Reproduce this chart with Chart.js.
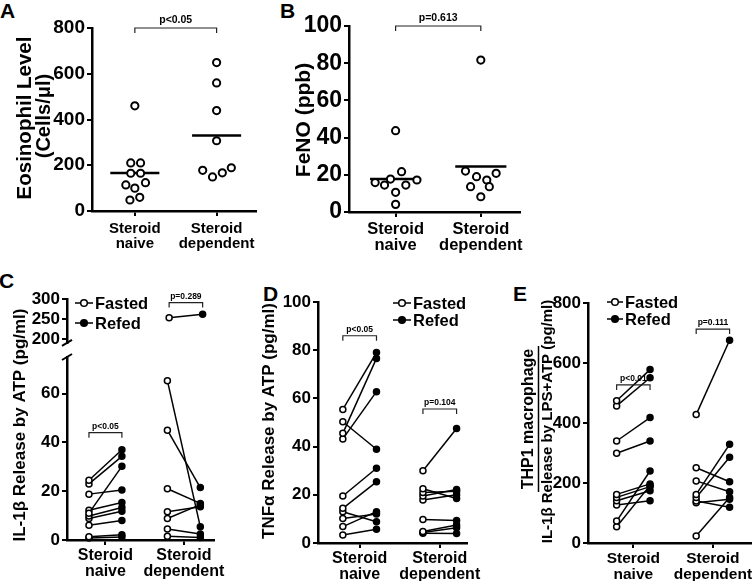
<!DOCTYPE html>
<html lang="en">
<head>
<meta charset="UTF-8">
<title>Steroid naive vs steroid dependent</title>
<script src="https://cdn.jsdelivr.net/npm/chart.js@4"></script>
<style>
    body {
        margin: 0;
        width: 756px;
        height: 581px;
        position: relative;
        overflow: hidden;
        background: #fff;
        font-family: 'Liberation Sans', Arial, sans-serif;
    }
    canvas { position: absolute; }
    .tag {
        position: absolute;
        font-weight: bold;
        font-size: 21px;
        line-height: 1;
    }
</style>
</head>
<body>
<div class="tag" style="left:0px;top:0px">A</div>
<div class="tag" style="left:280px;top:0px">B</div>
<div class="tag" style="left:-1px;top:270px">C</div>
<div class="tag" style="left:263px;top:283px">D</div>
<div class="tag" style="left:513px;top:283px">E</div>

<canvas id="chartA" width="260" height="264" style="left:0;top:0"></canvas>
<canvas id="chartB" width="285" height="264" style="left:260px;top:0"></canvas>
<canvas id="chartCtop" width="230" height="75" style="left:0;top:280px"></canvas>
<canvas id="chartC" width="230" height="301" style="left:0;top:280px"></canvas>
<canvas id="chartD" width="250" height="301" style="left:250px;top:280px"></canvas>
<canvas id="chartE" width="256" height="301" style="left:500px;top:280px"></canvas>

<script>
    // categories
    const groups = [['Steroid', 'naive'], ['Steroid', 'dependent']];
    const groupX = [1, 2];
    const legendLabels = ['Fasted', 'Refed'];

    // A: eosinophils (cells/ul), x jitter in category units
    const eosNaive = [460, 210, 210, 165, 165, 124, 114, 100, 60, 48];
    const eosNaiveJitter = [0, -0.05, 0.07, -0.05, 0.07, 0.13, -0.11, 0, 0.06, -0.06];
    const eosDep = [649, 560, 439, 307, 178, 149, 167, 189];
    const eosDepJitter = [0, 0, 0, 0, -0.17, -0.05, 0.07, 0.18];

    // B: FeNO (ppb)
    const fenoNaive = [43.7, 21.7, 17.7, 17.2, 15.8, 14.5, 14.5, 10.6, 4.1];
    const fenoNaiveJitter = [0, 0.07, -0.06, 0.25, -0.24, -0.13, 0.12, 0, 0];
    const fenoDep = [81.7, 22, 20.8, 19, 17.2, 13.6, 13.6, 8.2];
    const fenoDepJitter = [0, -0.18, 0.18, -0.05, 0.07, -0.12, 0.1, 0];

    // C: IL-1b release by ATP (pg/ml), fasted -> refed pairs
    const il1bNaiveFasted = [24.5, 23, 18.8, 11, 12.2, 9.8, 8.8, 6, 1.3, 0.8];
    const il1bNaiveRefed = [37, 34.3, 20.5, 30.2, 15.4, 13.3, 11.8, 8, 2.2, 1.2];
    const il1bDepFasted = [253, 65.3, 45, 21, 11.6, 8.8, 4.5, 1.5];
    const il1bDepRefed = [262, 5.4, 21.5, 15, 13.6, 14.5, 2.5, 1.0];

    // D: TNFa release by ATP (pg/ml)
    const tnfNaiveFasted = [55.4, 45.5, 43.2, 50.3, 19.5, 14.4, 13, 10.2, 6.8, 3.3];
    const tnfNaiveRefed = [79, 76.6, 62.8, 38.9, 31, 25.4, 8.8, 12, 13, 5.7];
    const tnfDepFasted = [30, 22.5, 21, 19.5, 17.8, 9.8, 4.8, 4.4, 4];
    const tnfDepRefed = [47.5, 18.5, 21.5, 22.2, 20, 9.3, 7.5, 6.3, 3.9];

    // E: THP1 macrophage IL-1b release by LPS+ATP (pg/ml)
    const thpNaiveFasted = [474, 457, 340, 299, 162, 152, 141, 127, 73, 54];
    const thpNaiveRefed = [578, 551, 418, 340, 197, 188, 174, 141, 240, 192];
    const thpDepFasted = [428, 251, 207, 162, 152, 140, 134, 23];
    const thpDepRefed = [676, 204, 171, 329, 286, 119, 146, 152];

    // p values
    const pA = 'p<0.05';
    const pB = 'p=0.613';
    const pC = ['p<0.05', 'p=0.289'];
    const pD = ['p<0.05', 'p=0.104'];
    const pE = ['p<0.01', 'p=0.111'];

    const FONT = "'Liberation Sans', Arial, sans-serif";
    const PAIR_OFF = 0.21;

    const mean = a => a.reduce((s, v) => s + v, 0) / a.length;

    // p-value brackets, drawn at data coordinates
    const bracketPlugin = {
        id: 'brackets',
        afterDraw(chart, args, o) {
            if (!o || !o.items) return;
            const {ctx, scales: {x, y}} = chart;
            ctx.save();
            ctx.strokeStyle = '#222';
            ctx.fillStyle = '#000';
            ctx.lineWidth = 1.2;
            ctx.font = 'bold ' + o.size + 'px ' + FONT;
            ctx.textAlign = 'center';
            ctx.textBaseline = 'bottom';
            o.items.forEach(b => {
                const x1 = x.getPixelForValue(b.x1);
                const x2 = x.getPixelForValue(b.x2);
                const py = y.getPixelForValue(b.y);
                ctx.beginPath();
                ctx.moveTo(x1, py + o.drop);
                ctx.lineTo(x1, py);
                ctx.lineTo(x2, py);
                ctx.lineTo(x2, py + o.drop);
                ctx.stroke();
                ctx.fillText(b.text, (x1 + x2) / 2, py - o.gap);
            });
            ctx.restore();
        }
    };

    // rotated y titles (canvas coords)
    const sideTitle = {
        id: 'sideTitle',
        afterDraw(chart, args, o) {
            if (!o || !o.lines) return;
            const ctx = chart.ctx;
            ctx.save();
            ctx.fillStyle = '#000';
            ctx.textAlign = 'center';
            ctx.textBaseline = 'middle';
            o.lines.forEach((t, i) => {
                ctx.save();
                ctx.font = 'bold ' + o.sizes[i] + 'px ' + FONT;
                ctx.translate(o.x[i], o.y[i]);
                ctx.rotate(-Math.PI / 2);
                ctx.fillText(t, 0, 0);
                ctx.restore();
            });
            if (o.bar) {
                ctx.strokeStyle = '#000';
                ctx.lineWidth = 1.5;
                ctx.beginPath();
                ctx.moveTo(o.bar.x, o.bar.y1);
                ctx.lineTo(o.bar.x, o.bar.y2);
                ctx.stroke();
            }
            ctx.restore();
        }
    };

    // Fasted / Refed key with line + circle symbol
    const miniLegend = {
        id: 'miniLegend',
        afterDraw(chart, args, o) {
            if (!o || !o.x) return;
            const ctx = chart.ctx;
            ctx.save();
            ctx.font = 'bold ' + o.size + 'px ' + FONT;
            ctx.textBaseline = 'middle';
            legendLabels.forEach((label, i) => {
                const y = o.y + i * o.dy;
                ctx.strokeStyle = '#000';
                ctx.lineWidth = 1.5;
                ctx.beginPath();
                ctx.moveTo(o.x, y);
                ctx.lineTo(o.x + o.w, y);
                ctx.stroke();
                ctx.beginPath();
                ctx.arc(o.x + o.w / 2, y, 3.3, 0, Math.PI * 2);
                ctx.fillStyle = i === 0 ? '#fff' : '#000';
                ctx.fill();
                ctx.stroke();
                ctx.fillStyle = '#000';
                ctx.fillText(label, o.x + o.w + 2, y + 1);
            });
            ctx.restore();
        }
    };

    // little slash where the C axis is broken
    const axisBreak = {
        id: 'axisBreak',
        afterDraw(chart, args, o) {
            if (!o || !o.edge) return;
            const {ctx, chartArea} = chart;
            const x = chartArea.left;
            const y = o.edge === 'bottom' ? chartArea.bottom : chartArea.top;
            ctx.save();
            ctx.strokeStyle = '#000';
            ctx.lineWidth = 2;
            ctx.beginPath();
            ctx.moveTo(x - 5, y + 3);
            ctx.lineTo(x + 5, y - 3);
            ctx.stroke();
            ctx.restore();
        }
    };

    Chart.register(bracketPlugin, sideTitle, miniLegend, axisBreak);

    function xAxis(min, max, size, height, pad, display) {
        return {
            type: 'linear',
            min: min,
            max: max,
            display: display !== false,
            afterBuildTicks: s => { s.ticks = groupX.map(v => ({value: v})); },
            afterFit: s => { s.height = height; },
            ticks: {
                callback: (v, i) => groups[i],
                font: {family: FONT, size: size, weight: 'bold', lineHeight: 1},
                color: '#000',
                padding: pad,
                maxRotation: 0,
                autoSkip: false
            },
            grid: {drawOnChartArea: false, tickLength: 5, color: '#000', lineWidth: 2},
            border: {color: '#000', width: 2.5}
        };
    }

    function yAxis(min, max, tickVals, size, width) {
        return {
            type: 'linear',
            min: min,
            max: max,
            afterBuildTicks: s => { s.ticks = tickVals.map(v => ({value: v})); },
            afterFit: s => { s.width = width; },
            ticks: {
                font: {family: FONT, size: size, weight: 'bold'},
                color: '#000',
                padding: 2
            },
            grid: {drawOnChartArea: false, tickLength: 5, color: '#000', lineWidth: 2},
            border: {color: '#000', width: 2.5}
        };
    }

    function opts(pad, x, y, extra) {
        return {
            responsive: false,
            animation: false,
            events: [],
            layout: {padding: pad, autoPadding: false},
            scales: {x: x, y: y},
            plugins: Object.assign({legend: {display: false}, tooltip: {enabled: false}}, extra)
        };
    }

    function dots(values, jitter, gx) {
        return {
            data: values.map((v, i) => ({x: gx + jitter[i], y: v})),
            pointRadius: 3.6,
            pointBorderWidth: 2,
            pointBackgroundColor: '#fff',
            pointBorderColor: '#000',
            clip: false
        };
    }

    function meanLine(values, gx) {
        const m = mean(values);
        return {
            data: [{x: gx - 0.3, y: m}, {x: gx + 0.3, y: m}],
            showLine: true,
            borderColor: '#000',
            borderWidth: 2.5,
            pointRadius: 0,
            clip: false
        };
    }

    function pairs(fasted, refed, gx, keep) {
        const sets = [];
        fasted.forEach((f, i) => {
            if (keep && !keep(f, refed[i])) return;
            sets.push({
                data: [{x: gx - PAIR_OFF, y: f}, {x: gx + PAIR_OFF, y: refed[i]}],
                showLine: true,
                borderColor: '#000',
                borderWidth: 1.5,
                pointRadius: 3,
                pointBorderWidth: 1.5,
                pointBackgroundColor: ['#fff', '#000'],
                pointBorderColor: '#000',
                clip: false
            });
        });
        return sets;
    }

    // A
    new Chart(document.getElementById('chartA'), {
        type: 'scatter',
        data: {datasets: [
            dots(eosNaive, eosNaiveJitter, groupX[0]),
            dots(eosDep, eosDepJitter, groupX[1]),
            meanLine(eosNaive, groupX[0]),
            meanLine(eosDep, groupX[1])
        ]},
        options: opts({top: 28, right: 2, left: 0, bottom: 0},
            xAxis(0.476, 2.48, 15, 53, 5),
            yAxis(0, 800, [0, 200, 400, 600, 800], 19, 92),
            {
                brackets: {items: [{x1: 1, x2: 2, y: 800, text: pA}], size: 10.5, drop: 5, gap: 3},
                sideTitle: {lines: ['Eosinophil Level', '(Cells/\u03bcl)'], x: [25, 44], y: [118, 116], sizes: [20.5, 20]}
            })
    });

    // B
    new Chart(document.getElementById('chartB'), {
        type: 'scatter',
        data: {datasets: [
            dots(fenoNaive, fenoNaiveJitter, groupX[0]),
            dots(fenoDep, fenoDepJitter, groupX[1]),
            meanLine(fenoNaive, groupX[0]),
            meanLine(fenoDep, groupX[1])
        ]},
        options: opts({top: 26, right: 25, left: 0, bottom: 0},
            xAxis(0.453, 2.46, 16.5, 52, 4),
            yAxis(0, 100, [0, 20, 40, 60, 80, 100], 23, 89),
            {
                brackets: {items: [{x1: 1, x2: 2, y: 100, text: pB}], size: 10.5, drop: 5, gap: 3},
                sideTitle: {lines: ['FeNO (ppb)'], x: [44], y: [120], sizes: [21]}
            })
    });

    // C, upper segment of the broken axis
    const highC = f => f >= 190;
    const lowC = f => f < 190;
    new Chart(document.getElementById('chartCtop'), {
        type: 'scatter',
        data: {datasets: [
            ...pairs(il1bNaiveFasted, il1bNaiveRefed, groupX[0], highC),
            ...pairs(il1bDepFasted, il1bDepRefed, groupX[1], highC)
        ]},
        options: opts({top: 19, right: 13, left: 0, bottom: 8},
            xAxis(0.51, 2.39, 16, 0, 3, false),
            yAxis(190, 300, [200, 250, 300], 17, 67),
            {
                brackets: {items: [{x1: 2 - PAIR_OFF, x2: 2 + PAIR_OFF, y: 291, text: pC[1]}], size: 8.5, drop: 5, gap: 2},
                miniLegend: {x: 75, w: 18, y: 23, dy: 20, size: 16.5},
                axisBreak: {edge: 'bottom'}
            })
    });

    // C, lower segment
    new Chart(document.getElementById('chartC'), {
        type: 'scatter',
        data: {datasets: [
            ...pairs(il1bNaiveFasted, il1bNaiveRefed, groupX[0], lowC),
            ...pairs(il1bDepFasted, il1bDepRefed, groupX[1], lowC)
        ]},
        options: opts({top: 77, right: 13, left: 0, bottom: 0},
            xAxis(0.51, 2.39, 16, 41, 3),
            yAxis(0, 75, [0, 20, 40, 60], 17, 67),
            {
                brackets: {items: [{x1: 1 - PAIR_OFF, x2: 1 + PAIR_OFF, y: 44, text: pC[0]}], size: 8.5, drop: 5, gap: 2},
                sideTitle: {lines: ['IL-1\u03b2 Release by ATP (pg/ml)'], x: [20], y: [145], sizes: [17]},
                axisBreak: {edge: 'top'}
            })
    });

    // D
    new Chart(document.getElementById('chartD'), {
        type: 'scatter',
        data: {datasets: [
            ...pairs(tnfNaiveFasted, tnfNaiveRefed, groupX[0]),
            ...pairs(tnfDepFasted, tnfDepRefed, groupX[1])
        ]},
        options: opts({top: 22, right: 33, left: 0, bottom: 0},
            xAxis(0.48, 2.34, 16, 38, 3),
            yAxis(0, 100, [0, 20, 40, 60, 80, 100], 17, 68),
            {
                brackets: {items: [
                    {x1: 1 - PAIR_OFF, x2: 1 + PAIR_OFF, y: 86, text: pD[0]},
                    {x1: 2 - PAIR_OFF, x2: 2 + PAIR_OFF, y: 55.6, text: pD[1]}
                ], size: 8.5, drop: 5, gap: 2},
                sideTitle: {lines: ['TNF\u03b1 Release by ATP (pg/ml)'], x: [19], y: [141], sizes: [17]},
                miniLegend: {x: 143, w: 18, y: 23, dy: 17, size: 16.5}
            })
    });

    // E
    new Chart(document.getElementById('chartE'), {
        type: 'scatter',
        data: {datasets: [
            ...pairs(thpNaiveFasted, thpNaiveRefed, groupX[0]),
            ...pairs(thpDepFasted, thpDepRefed, groupX[1])
        ]},
        options: opts({top: 23, right: 4, left: 0, bottom: 0},
            xAxis(0.43, 2.48, 15.5, 38, 3),
            yAxis(0, 800, [0, 200, 400, 600, 800], 17, 88),
            {
                brackets: {items: [
                    {x1: 1 - PAIR_OFF, x2: 1 + PAIR_OFF, y: 527, text: pE[0]},
                    {x1: 2 - PAIR_OFF, x2: 2 + PAIR_OFF, y: 713, text: pE[1]}
                ], size: 8.5, drop: 5, gap: 2},
                sideTitle: {
                    lines: ['THP1 macrophage', 'IL-1\u03b2 Release by LPS+ATP (pg/ml)'],
                    x: [29, 48], y: [139, 141.5], sizes: [16, 15],
                    bar: {x: 38.5, y1: 66, y2: 212}
                },
                miniLegend: {x: 107, w: 16, y: 22, dy: 17, size: 16.5}
            })
    });
</script>
</body>
</html>
